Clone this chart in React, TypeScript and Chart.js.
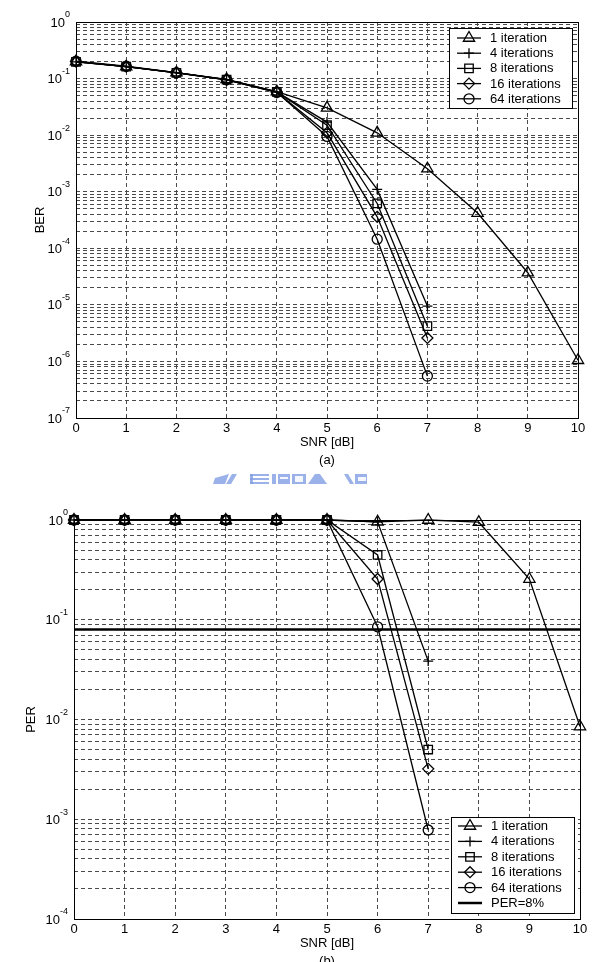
import React, { useEffect, useRef } from "react";
import { Chart, registerables } from "chart.js";
import { drawPoint } from "chart.js/helpers";

Chart.register(...registerables);

const FONT = '"Liberation Sans", Arial, Helvetica, sans-serif';

// ---------- data ----------
const snrDb = [0, 1, 2, 3, 4, 5, 6, 7, 8, 9, 10];
const snrTicks = [0, 1, 2, 3, 4, 5, 6, 7, 8, 9, 10];
const seriesLabels = ["1 iteration", "4 iterations", "8 iterations", "16 iterations", "64 iterations"];
const targetLabel = "PER=8%";
const xTitle = "SNR [dB]";
const captionA = "(a)";
const captionB = "(b)";

const berIter1 = [0.2, 0.162, 0.127, 0.097, 0.059, 0.0303, 0.011, 0.00255, 0.00042, 0.000037, 0.00000105];
const berIter4 = [0.198, 0.162, 0.127, 0.096, 0.058, 0.017, 0.0011, 0.0000095];
const berIter8 = [0.198, 0.162, 0.126, 0.096, 0.058, 0.015, 0.00062, 0.0000042];
const berIter16 = [0.2, 0.163, 0.126, 0.095, 0.057, 0.011, 0.00036, 0.0000026];
const berIter64 = [0.203, 0.165, 0.127, 0.095, 0.057, 0.0095, 0.000145, 0.00000055];
const berDecades = [-7, -6, -5, -4, -3, -2, -1, 0];

const perIter1 = [1, 1, 1, 1, 1, 1, 0.96, 1.0, 0.95, 0.256, 0.0085];
const perIter4 = [1, 1, 1, 1, 1, 1, 0.96, 0.0385];
const perIter8 = [1, 1, 1, 1, 1, 1, 0.446, 0.005];
const perIter16 = [1, 1, 1, 1, 1, 1, 0.256, 0.0032];
const perIter64 = [1, 1, 1, 1, 1, 1, 0.085, 0.00078];
const perTarget = 0.08;
const perDecades = [-4, -3, -2, -1, 0];

// ---------- styles ----------
const markers = [
  { pointStyle: "triangle", radius: 6.5 },
  { pointStyle: "cross", radius: 5 },
  { pointStyle: "rect", radius: 6 },
  { pointStyle: "rectRot", radius: 5.5 },
  { pointStyle: "circle", radius: 5 },
];
const CURVE_W = 1.3;

function toPoints(values: number[]) {
  return values.map((v, i) => ({ x: snrDb[i], y: v }));
}

function logTicks(decades: number[]) {
  const out: { value: number }[] = [];
  for (let k = 0; k < decades.length - 1; k++) {
    const base = Math.pow(10, decades[k]);
    for (let m = 1; m <= 9; m++) out.push({ value: Number((m * base).toPrecision(6)) });
  }
  out.push({ value: Math.pow(10, decades[decades.length - 1]) });
  return out;
}

const decorPlugin = {
  id: "decor",
  afterDatasetsDraw(chart: any, _args: any, opts: any) {
    const { ctx, chartArea: a } = chart;
    ctx.save();
    // box
    ctx.setLineDash([]);
    ctx.strokeStyle = "#000";
    ctx.lineWidth = 1;
    const L = Math.round(a.left) + 0.5;
    const T = Math.round(a.top) + 0.5;
    const R = Math.round(a.right) + 0.5;
    const B = Math.round(a.bottom) + 0.5;
    ctx.strokeRect(L, T, R - L, B - T);

    // y tick labels with superscript exponents
    const ys = chart.scales.y;
    ctx.fillStyle = "#000";
    ctx.textBaseline = "middle";
    for (const d of opts.decades as number[]) {
      const py = ys.getPixelForValue(Math.pow(10, d));
      const exp = String(d);
      ctx.font = `9px ${FONT}`;
      const ew = ctx.measureText(exp).width;
      const xr = a.left - 6;
      ctx.textAlign = "left";
      ctx.fillText(exp, xr - ew, py - 7);
      ctx.font = `13px ${FONT}`;
      ctx.textAlign = "right";
      ctx.fillText("10", xr - ew, py + 1);
    }

    // legend
    const lg = opts.legend;
    if (lg) {
      ctx.fillStyle = "#fff";
      ctx.fillRect(lg.x, lg.y, lg.w, lg.h);
      ctx.strokeStyle = "#000";
      ctx.lineWidth = 1;
      ctx.strokeRect(lg.x + 0.5, lg.y + 0.5, lg.w, lg.h);
      const ds = chart.data.datasets;
      ds.forEach((d: any, i: number) => {
        const y = lg.firstY + i * lg.step;
        ctx.strokeStyle = "#000";
        ctx.lineWidth = d.borderWidth;
        ctx.setLineDash([]);
        ctx.beginPath();
        ctx.moveTo(lg.lineX0, y);
        ctx.lineTo(lg.lineX1, y);
        ctx.stroke();
        if (d.pointRadius > 0) {
          ctx.lineWidth = d.pointBorderWidth;
          ctx.fillStyle = "rgba(0,0,0,0)";
          drawPoint(ctx, { pointStyle: d.pointStyle, radius: d.pointRadius, borderWidth: d.pointBorderWidth, rotation: 0 } as any, (lg.lineX0 + lg.lineX1) / 2, y);
        }
        ctx.fillStyle = "#000";
        ctx.font = `13px ${FONT}`;
        ctx.textAlign = "left";
        ctx.textBaseline = "middle";
        ctx.fillText(d.label, lg.textX, y + 0.5);
      });
    }

    // watermark logo (scan artefact)
    if (opts.watermark) {
      ctx.fillStyle = "rgba(130,158,228,0.8)";
      const polys: number[][][] = [
        [[215, 478], [229, 474], [225, 484], [213, 484]],
        [[232, 474], [237, 474], [231, 484], [226, 484]],
        [[250, 474], [269, 474], [269, 476], [250, 476]],
        [[250, 478], [269, 478], [269, 480], [250, 480]],
        [[250, 482], [269, 482], [269, 484], [250, 484]],
        [[250, 474], [253, 474], [253, 484], [250, 484]],
        [[272, 474], [276, 474], [276, 484], [272, 484]],
        [[278, 474], [290, 474], [290, 484], [278, 484]],
        [[292, 474], [306, 474], [306, 484], [292, 484]],
        [[308, 484], [315, 474], [320, 474], [327, 484]],
        [[344, 474], [348, 474], [354, 484], [350, 484]],
        [[355, 474], [367, 474], [367, 484], [355, 484]],
      ];
      for (const p of polys) {
        ctx.beginPath();
        ctx.moveTo(p[0][0], p[0][1]);
        for (let k = 1; k < p.length; k++) ctx.lineTo(p[k][0], p[k][1]);
        ctx.closePath();
        ctx.fill();
      }
      ctx.fillStyle = "rgba(255,255,255,0.9)";
      ctx.fillRect(280, 477, 8, 2);
      ctx.fillRect(295, 476, 8, 6);
      ctx.fillRect(358, 477, 8, 4);
    }
    ctx.restore();
  },
};

function makeDataset(label: string, values: number[], i: number) {
  return {
    label,
    data: toPoints(values),
    borderColor: "#000",
    backgroundColor: "rgba(0,0,0,0)",
    borderWidth: CURVE_W,
    pointStyle: markers[i].pointStyle,
    pointRadius: markers[i].radius,
    pointHoverRadius: markers[i].radius,
    pointBorderColor: "#000",
    pointBackgroundColor: "rgba(0,0,0,0)",
    pointBorderWidth: CURVE_W,
    tension: 0,
    clip: false,
  };
}

function makeConfig(p: any) {
  const gridColor = "#4a4a4a";
  return {
    type: "line",
    data: { datasets: p.datasets },
    plugins: [decorPlugin],
    options: {
      animation: false,
      responsive: false,
      events: [],
      layout: { padding: { top: p.top, right: p.right, left: 0, bottom: 0 } },
      plugins: {
        legend: { display: false },
        tooltip: { enabled: false },
        decor: { decades: p.decades, legend: p.legend, watermark: p.watermark },
      },
      scales: {
        x: {
          type: "linear",
          min: 0,
          max: 10,
          afterBuildTicks: (s: any) => {
            s.ticks = snrTicks.map((v) => ({ value: v }));
          },
          ticks: { color: "#000", font: { family: FONT, size: 13 }, padding: 3, maxRotation: 0, autoSkip: false },
          grid: { color: gridColor, lineWidth: 1, drawTicks: false },
          border: { display: false, dash: [4, 3] },
          title: {
            display: true,
            text: [xTitle, p.caption],
            color: "#000",
            font: { family: FONT, size: 13, lineHeight: 18 / 13 },
            padding: { top: 0, bottom: p.titlePadBottom },
          },
          afterFit: (s: any) => {
            s.height = p.xAxisHeight;
          },
        },
        y: {
          type: "logarithmic",
          min: Math.pow(10, p.decades[0]),
          max: Math.pow(10, p.decades[p.decades.length - 1]),
          afterBuildTicks: (s: any) => {
            s.ticks = logTicks(p.decades);
          },
          ticks: { display: false },
          grid: { color: gridColor, lineWidth: 1, drawTicks: false },
          border: { display: false, dash: [4, 3] },
          title: {
            display: true,
            text: p.yTitle,
            color: "#000",
            font: { family: FONT, size: 13 },
            padding: { top: p.yTitlePad, bottom: 0 },
          },
          afterFit: (s: any) => {
            s.width = p.left;
          },
        },
      },
    },
  };
}

function ChartCanvas({ config, width, height, top }: any) {
  const ref = useRef<HTMLCanvasElement | null>(null);
  useEffect(() => {
    if (!ref.current) return;
    const chart = new Chart(ref.current, config as any);
    return () => chart.destroy();
  }, [config]);
  return (
    <canvas
      ref={ref}
      width={width}
      height={height}
      style={{ position: "absolute", left: 0, top, width, height }}
    />
  );
}

const berConfig = makeConfig({
  datasets: [
    makeDataset(seriesLabels[0], berIter1, 0),
    makeDataset(seriesLabels[1], berIter4, 1),
    makeDataset(seriesLabels[2], berIter8, 2),
    makeDataset(seriesLabels[3], berIter16, 3),
    makeDataset(seriesLabels[4], berIter64, 4),
  ],
  decades: berDecades,
  top: 22,
  right: 595 - 578,
  left: 76,
  xAxisHeight: 490 - 418,
  titlePadBottom: 21,
  caption: captionA,
  yTitle: "BER",
  yTitlePad: 33,
  watermark: true,
  legend: { x: 449, y: 28, w: 123, h: 80, firstY: 38, step: 15.2, lineX0: 457, lineX1: 481, textX: 490 },
});

const perTargetDataset = {
  label: targetLabel,
  data: [
    { x: 0, y: perTarget },
    { x: 10, y: perTarget },
  ],
  borderColor: "#000",
  backgroundColor: "rgba(0,0,0,0)",
  borderWidth: 2.5,
  pointRadius: 0,
  pointHoverRadius: 0,
  tension: 0,
};

const perConfig = makeConfig({
  datasets: [
    makeDataset(seriesLabels[0], perIter1, 0),
    makeDataset(seriesLabels[1], perIter4, 1),
    makeDataset(seriesLabels[2], perIter8, 2),
    makeDataset(seriesLabels[3], perIter16, 3),
    makeDataset(seriesLabels[4], perIter64, 4),
    perTargetDataset,
  ],
  decades: perDecades,
  top: 520 - 490,
  right: 595 - 580,
  left: 74,
  xAxisHeight: 480 - (919 - 490),
  titlePadBottom: 0,
  caption: captionB,
  yTitle: "PER",
  yTitlePad: 24,
  watermark: false,
  legend: { x: 451, y: 817 - 490, w: 123, h: 96, firstY: 826 - 490, step: 15.4, lineX0: 458, lineX1: 482, textX: 491 },
});

export default function App() {
  return (
    <div
      style={{
        position: "absolute",
        left: 0,
        top: 0,
        width: 595,
        height: 962,
        overflow: "hidden",
        background: "#fff",
      }}
    >
      <ChartCanvas config={berConfig} width={595} height={490} top={0} />
      <ChartCanvas config={perConfig} width={595} height={480} top={490} />
    </div>
  );
}
